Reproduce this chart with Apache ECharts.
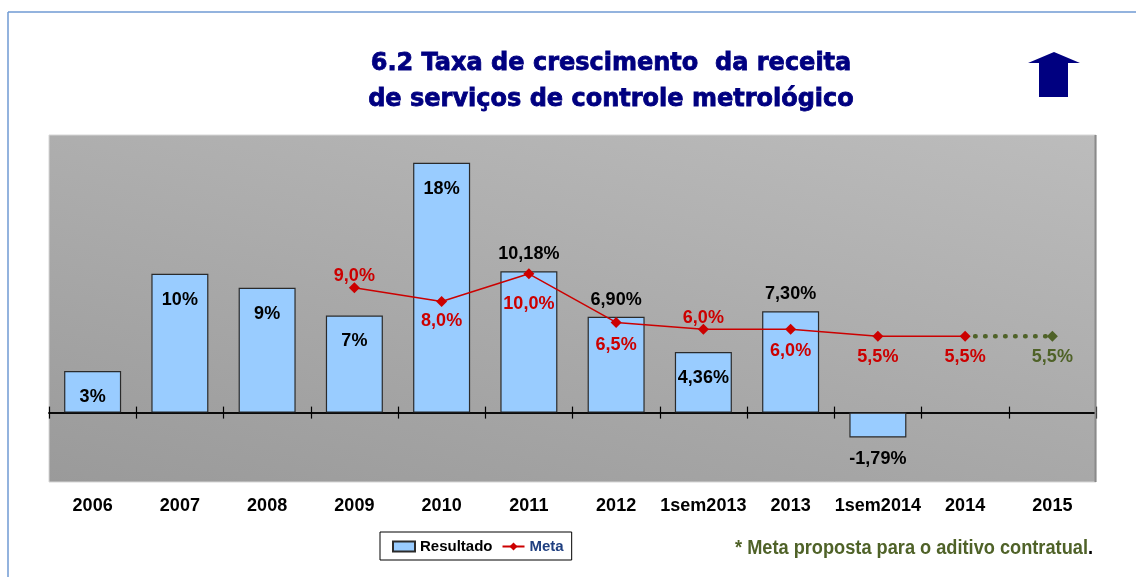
<!DOCTYPE html>
<html>
<head>
<meta charset="utf-8">
<script src="https://cdn.jsdelivr.net/npm/echarts@6/dist/echarts.min.js"></script>
<style>
  html, body { margin: 0; padding: 0; background: #fff; }
  #chart { width: 1136px; height: 577px; }
</style>
</head>
<body>
<div id="chart"></div>
<script>
// dados
const categories = ['2006', '2007', '2008', '2009', '2010', '2011', '2012', '1sem2013', '2013', '1sem2014', '2014', '2015'];
const resultado = [3, 10, 9, 7, 18, 10.18, 6.90, 4.36, 7.30, -1.79, null, null];
const resultadoDecimais = [0, 0, 0, 0, 0, 2, 2, 2, 2, 2, 0, 0];
const meta = [null, null, null, 9.0, 8.0, 10.0, 6.5, 6.0, 6.0, 5.5, 5.5, null];
const metaProposta = [null, null, null, null, null, null, null, null, null, null, 5.5, 5.5];

// posicao dos rotulos
const posResultado = ['insideTop', 'insideTop', 'insideTop', 'insideTop', 'insideTop', 'outside', 'outside', 'insideTop', 'outside', 'outside', null, null];
const posMeta = [null, null, null, ['top', -3], ['bottom', 5], ['bottom', 16], ['bottom', 8], ['top', -3], ['bottom', 7], ['bottom', 6], ['bottom', 6], null];

const fmt = (v, d) => v.toFixed(d).replace('.', ',') + '%';

const chart = echarts.init(document.getElementById('chart'));

const barData = resultado.map((v, i) => {
  if (v === null) return '-';
  const p = posResultado[i];
  return {
    value: v,
    label: { position: p, distance: p === 'insideTop' ? 17 : (v < 0 ? 13 : 8) }
  };
});

const metaData = meta.map((v, i) => {
  if (v === null) return '-';
  return { value: v, label: { position: posMeta[i][0], distance: posMeta[i][1] } };
});

const propostaData = metaProposta.map((v, i) => {
  if (v === null) return '-';
  if (i === 10) return { value: v, symbol: 'none', label: { show: false } };
  return { value: v, label: { position: 'bottom', distance: 6 } };
});

const labelFont = { fontFamily: 'Liberation Sans, Arial, sans-serif', fontWeight: 'bold', fontSize: 18 };

// eixo de categorias no zero (com ticks para baixo ou para cima)
function eixoZero(yIdx, inside) {
  return {
    type: 'category',
    data: categories,
    position: 'bottom',
    axisLine: { onZero: true, onZeroAxisIndex: yIdx, lineStyle: { color: '#000', width: 1.5 } },
    axisTick: { show: true, inside: inside, length: 6, lineStyle: { color: '#000', width: 1.2 } },
    axisLabel: { show: false }
  };
}

const option = {
  animation: false,
  backgroundColor: '#ffffff',
  title: {
    text: '6.2 Taxa de crescimento  da receita\nde serviços de controle metrológico',
    left: 606,
    top: 41,
    textAlign: 'center',
    textStyle: {
      fontFamily: 'DejaVu Sans, sans-serif',
      fontWeight: 'bold',
      fontSize: 24,
      lineHeight: 36,
      color: '#000080',
      textBorderColor: '#000080',
      textBorderWidth: 0.8
    }
  },
  legend: {
    left: 380,
    top: 532,
    data: [
      { name: 'Resultado', icon: 'rect' },
      { name: 'Meta', textStyle: { color: '#1f3f80' } }
    ],
    padding: [7, 8, 6, 12],
    itemGap: 9,
    itemWidth: 22,
    itemHeight: 10,
    borderColor: '#000',
    borderWidth: 1,
    backgroundColor: '#fff',
    borderRadius: 0,
    textStyle: {
      fontFamily: 'Liberation Sans, Arial, sans-serif',
      fontWeight: 'bold',
      fontSize: 15,
      color: '#000'
    }
  },
  grid: {
    left: 49,
    right: 40,
    top: 135,
    bottom: 95,
    show: true,
    borderWidth: 1,
    borderColor: '#d6d6d6',
    backgroundColor: new echarts.graphic.LinearGradient(49, 482, 179, -78, [
      { offset: 0, color: '#9a9a9a' },
      { offset: 1, color: '#bcbcbc' }
    ], true)
  },
  xAxis: [
    eixoZero(0, false),
    eixoZero(1, true),
    {
      type: 'category',
      data: categories,
      position: 'bottom',
      axisLine: { show: false, onZero: false },
      axisTick: { show: false },
      axisLabel: {
        interval: 0,
        margin: 15,
        color: '#000',
        fontFamily: 'Liberation Sans, Arial, sans-serif',
        fontWeight: 'bold',
        fontSize: 18
      }
    }
  ],
  yAxis: [
    { type: 'value', min: -5, max: 20, show: false, splitLine: { show: false } },
    { type: 'value', min: -5, max: 20, show: false, splitLine: { show: false } }
  ],
  series: [
    {
      name: 'Resultado',
      type: 'bar',
      data: barData,
      barWidth: 57,
      itemStyle: { color: '#99ccff', borderColor: '#2b2b2b', borderWidth: 1.2 },
      label: Object.assign({
        show: true,
        color: '#000',
        formatter: p => fmt(p.value, resultadoDecimais[p.dataIndex])
      }, labelFont),
      z: 2
    },
    {
      name: 'Meta',
      type: 'line',
      data: metaData,
      symbol: 'diamond',
      symbolSize: 11,
      lineStyle: { color: '#cc0000', width: 1.5 },
      itemStyle: { color: '#cc0000' },
      label: Object.assign({
        show: true,
        color: '#cc0000',
        formatter: p => fmt(p.value, 1)
      }, labelFont),
      z: 4
    },
    {
      name: 'Meta proposta',
      type: 'line',
      data: propostaData,
      symbol: 'diamond',
      symbolSize: 11,
      lineStyle: { color: '#4f6228', width: 4.5, type: [0.5, 9.5], cap: 'round' },
      itemStyle: { color: '#4f6228' },
      label: Object.assign({
        show: true,
        color: '#4f6228',
        formatter: p => fmt(p.value, 1)
      }, labelFont),
      z: 3
    }
  ],
  graphic: [
    // moldura
    { type: 'line', shape: { x1: 8, y1: 12, x2: 1136, y2: 12 }, style: { stroke: '#6f9ad3', lineWidth: 1.5 } },
    { type: 'line', shape: { x1: 8, y1: 12, x2: 8, y2: 577 }, style: { stroke: '#6f9ad3', lineWidth: 1.5 } },
    // borda direita da area do grafico
    { type: 'line', shape: { x1: 1095.5, y1: 135, x2: 1095.5, y2: 482 }, style: { stroke: '#8a8a8a', lineWidth: 2 }, z: 1 },
    // seta
    {
      type: 'polygon',
      shape: { points: [[1054, 52], [1080, 63], [1068, 63], [1068, 97], [1039, 97], [1039, 63], [1028, 63]] },
      style: { fill: '#000080' }
    },
    // nota
    {
      type: 'text',
      x: 735,
      y: 548,
      scaleX: 0.91,
      style: {
        text: '{g|* Meta proposta para o aditivo contratual}{k|.}',
        verticalAlign: 'middle',
        rich: {
          g: { fill: '#4f6228', fontFamily: 'Liberation Sans, Arial, sans-serif', fontWeight: 'bold', fontSize: 20 },
          k: { fill: '#000', fontFamily: 'Liberation Sans, Arial, sans-serif', fontWeight: 'bold', fontSize: 20 }
        }
      }
    }
  ]
};

chart.setOption(option);
</script>
</body>
</html>
